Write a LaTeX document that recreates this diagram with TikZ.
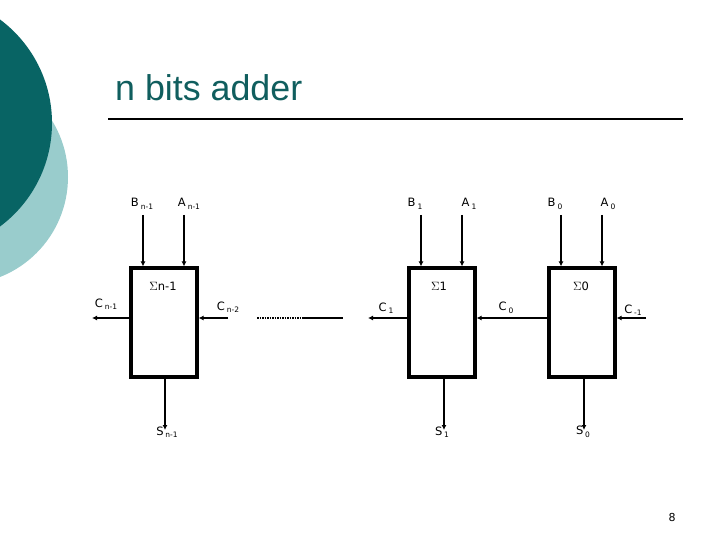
\documentclass[tikz,border=0pt]{standalone}
\usepackage{fontspec}
\setmainfont{DejaVu Sans}
\newfontfamily\titlefont{Liberation Sans}
\usetikzlibrary{arrows.meta}
\definecolor{darkteal}{RGB}{8,100,100}
\definecolor{lightteal}{RGB}{153,204,204}
\definecolor{titleteal}{RGB}{16,94,94}
\newcommand{\lbl}[2]{{\fontsize{11.5}{11.5}\selectfont #1}\,\raisebox{-2.5pt}{\fontsize{7.5}{7.5}\selectfont #2}}
\tikzset{
  adder/.style={draw, line width=3.2pt, minimum width=66pt, minimum height=109pt, inner sep=0pt, anchor=center},
  wire/.style={line width=2.8pt, -{Latex[length=5pt,width=5pt]}},
  thinwire/.style={line width=2.2pt, -{Latex[length=5pt,width=5pt]}},
  lab/.style={inner sep=0pt, font=\fontsize{11.5}{11.5}\selectfont},
}
\begin{document}
\begin{tikzpicture}[x=1pt,y=-1pt]
\useasboundingbox (0,0) rectangle (720,540);
% background circles
\begin{scope}
\clip (0,0) rectangle (720,540);
\fill[lightteal] (-39.5,177) circle (107.5);
\fill[darkteal] (-77,123) circle (129);
\end{scope}
% title
\node[anchor=base west, inner sep=0pt, text=titleteal, font=\titlefont\fontsize{35.8}{36}\selectfont] (title) at (115,101) {n bits adder};
\coordinate (rulel) at (108,119);
\coordinate (ruler) at (683,119);
\draw[line width=2pt] (rulel) -- (ruler);
% adder boxes
\node[adder] (bx2) at (164,322.5) {};
\node[adder] (bx1) at (442,322.5) {};
\node[adder] (bx0) at (582,322.5) {};
% sigma labels
\node[lab] (sg2) at (163,286) {$\Sigma$n-1};
\node[lab] (sg1) at (439,286) {$\Sigma$1};
\node[lab] (sg0) at (581,286) {$\Sigma$0};
% input coordinates
\coordinate (inB2) at (143,215);
\coordinate (inA2) at (184,215);
\coordinate (inB1) at (421,215);
\coordinate (inA1) at (462,215);
\coordinate (inB0) at (561,215);
\coordinate (inA0) at (602,215);
\draw[wire] (inB2) -- (inB2 |- bx2.north);
\draw[thinwire] (inA2) -- (inA2 |- bx2.north);
\draw[thinwire] (inB1) -- (inB1 |- bx1.north);
\draw[wire] (inA1) -- (inA1 |- bx1.north);
\draw[wire] (inB0) -- (inB0 |- bx0.north);
\draw[wire] (inA0) -- (inA0 |- bx0.north);
% input labels
\node[lab] (lB2) at (142,204) {\lbl{B}{n-1}};
\node[lab] (lA2) at (189,204) {\lbl{A}{n-1}};
\node[lab] (lB1) at (415,204) {\lbl{B}{1}};
\node[lab] (lA1) at (469,204) {\lbl{A}{1}};
\node[lab] (lB0) at (555,204) {\lbl{B}{0}};
\node[lab] (lA0) at (608,204) {\lbl{A}{0}};
% outputs
\coordinate (oS2) at (165,430);
\coordinate (oS1) at (444,430);
\coordinate (oS0) at (584,430);
\draw[thinwire] (oS2 |- bx2.south) -- (oS2);
\draw[thinwire] (oS1 |- bx1.south) -- (oS1);
\draw[wire] (oS0 |- bx0.south) -- (oS0);
\node[lab] (lS2) at (167,432) {\lbl{S}{n-1}};
\node[lab] (lS1) at (442,432) {\lbl{S}{1}};
\node[lab] (lS0) at (583,432) {\lbl{S}{0}};
% carries
\coordinate (cy) at (0,318);
\coordinate (cout2) at (92,318);
\coordinate (cin2) at (228,318);
\coordinate (dotA) at (257,318);
\coordinate (dotB) at (303,318);
\coordinate (dotC) at (343,318);
\coordinate (cout1) at (368,318);
\coordinate (cinm) at (646,318);
\draw[wire] (bx2.west |- cy) -- (cout2);
\draw[wire] (cin2) -- (bx2.east |- cy);
\draw[line width=2pt, dash pattern=on 1.5pt off 1pt] (dotA) -- (dotB);
\draw[line width=2pt] (dotB) -- (dotC);
\draw[wire] (bx1.west |- cy) -- (cout1);
\draw[wire] (bx0.west |- cy) -- (bx1.east |- cy);
\draw[wire] (cinm) -- (bx0.east |- cy);
\node[lab] (lC2) at (106,304) {\lbl{C}{n-1}};
\node[lab] (lCn2) at (228,307) {\lbl{C}{n-2}};
\node[lab] (lC1) at (386,308) {\lbl{C}{1}};
\node[lab] (lC0) at (506,308) {\lbl{C}{0}};
\node[lab] (lCm) at (633,310) {\lbl{C}{-1}};
% page number
\node[lab, font=\fontsize{11}{11}\selectfont] (pg) at (672,517) {8};
\end{tikzpicture}
\end{document}
